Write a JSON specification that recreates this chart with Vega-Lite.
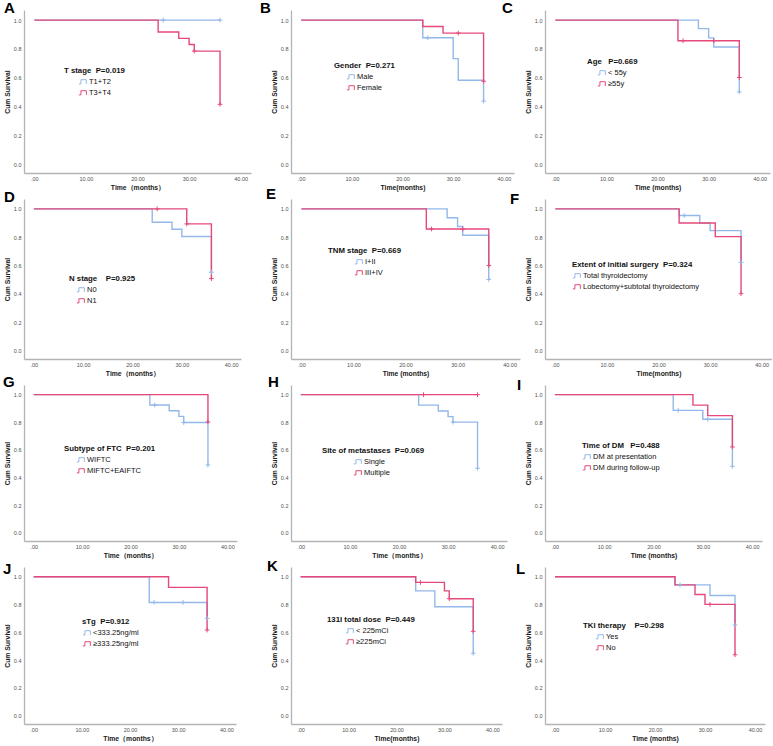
{
  "$schema": "https://vega.github.io/schema/vega-lite/v6.json",
  "autosize": {"type": "pad"},
  "padding": {"left": 3, "top": 1, "right": 0, "bottom": 0},
  "background": "white",
  "datasets": {
    "km": [
      {"p":"A","g":"T1+T2","t":0,"s":1,"c":0},
      {"p":"A","g":"T1+T2","t":25,"s":1,"c":1},
      {"p":"A","g":"T1+T2","t":36,"s":1,"c":1},
      {"p":"A","g":"T3+T4","t":0,"s":1,"c":0},
      {"p":"A","g":"T3+T4","t":24,"s":0.917,"c":0},
      {"p":"A","g":"T3+T4","t":28,"s":0.873,"c":0},
      {"p":"A","g":"T3+T4","t":30,"s":0.831,"c":0},
      {"p":"A","g":"T3+T4","t":31,"s":0.785,"c":1},
      {"p":"A","g":"T3+T4","t":36,"s":0.416,"c":1},

      {"p":"B","g":"Male","t":0,"s":1,"c":0},
      {"p":"B","g":"Male","t":24,"s":0.878,"c":0},
      {"p":"B","g":"Male","t":25,"s":0.878,"c":1},
      {"p":"B","g":"Male","t":30,"s":0.733,"c":0},
      {"p":"B","g":"Male","t":31,"s":0.583,"c":0},
      {"p":"B","g":"Male","t":36,"s":0.438,"c":1},
      {"p":"B","g":"Female","t":0,"s":1,"c":0},
      {"p":"B","g":"Female","t":24,"s":0.956,"c":0},
      {"p":"B","g":"Female","t":28,"s":0.91,"c":0},
      {"p":"B","g":"Female","t":31,"s":0.91,"c":1},
      {"p":"B","g":"Female","t":36,"s":0.576,"c":1},

      {"p":"C","g":"< 55y","t":0,"s":1,"c":0},
      {"p":"C","g":"< 55y","t":28,"s":0.941,"c":0},
      {"p":"C","g":"< 55y","t":30,"s":0.877,"c":0},
      {"p":"C","g":"< 55y","t":31,"s":0.814,"c":0},
      {"p":"C","g":"< 55y","t":36,"s":0.502,"c":1},
      {"p":"C","g":"≥55y","t":0,"s":1,"c":0},
      {"p":"C","g":"≥55y","t":24,"s":0.857,"c":0},
      {"p":"C","g":"≥55y","t":25,"s":0.857,"c":1},
      {"p":"C","g":"≥55y","t":31,"s":0.857,"c":1},
      {"p":"C","g":"≥55y","t":36,"s":0.602,"c":1},

      {"p":"D","g":"N0","t":0,"s":1,"c":0},
      {"p":"D","g":"N0","t":24,"s":0.906,"c":0},
      {"p":"D","g":"N0","t":28,"s":0.856,"c":0},
      {"p":"D","g":"N0","t":30,"s":0.805,"c":0},
      {"p":"D","g":"N0","t":36,"s":0.553,"c":1},
      {"p":"D","g":"N1","t":0,"s":1,"c":0},
      {"p":"D","g":"N1","t":25,"s":1,"c":1},
      {"p":"D","g":"N1","t":31,"s":0.894,"c":1},
      {"p":"D","g":"N1","t":36,"s":0.508,"c":1},

      {"p":"E","g":"I+II","t":0,"s":1,"c":0},
      {"p":"E","g":"I+II","t":28,"s":0.938,"c":0},
      {"p":"E","g":"I+II","t":30,"s":0.876,"c":0},
      {"p":"E","g":"I+II","t":31,"s":0.814,"c":0},
      {"p":"E","g":"I+II","t":36,"s":0.502,"c":1},
      {"p":"E","g":"III+IV","t":0,"s":1,"c":0},
      {"p":"E","g":"III+IV","t":24,"s":0.858,"c":0},
      {"p":"E","g":"III+IV","t":25,"s":0.858,"c":1},
      {"p":"E","g":"III+IV","t":31,"s":0.858,"c":1},
      {"p":"E","g":"III+IV","t":36,"s":0.6,"c":1},

      {"p":"F","g":"Total thyroidectomy","t":0,"s":1,"c":0},
      {"p":"F","g":"Total thyroidectomy","t":24,"s":0.953,"c":0},
      {"p":"F","g":"Total thyroidectomy","t":25,"s":0.953,"c":1},
      {"p":"F","g":"Total thyroidectomy","t":28,"s":0.901,"c":0},
      {"p":"F","g":"Total thyroidectomy","t":30,"s":0.847,"c":0},
      {"p":"F","g":"Total thyroidectomy","t":36,"s":0.622,"c":1},
      {"p":"F","g":"Lobectomy+subtotal thyroidectomy","t":0,"s":1,"c":0},
      {"p":"F","g":"Lobectomy+subtotal thyroidectomy","t":24,"s":0.901,"c":0},
      {"p":"F","g":"Lobectomy+subtotal thyroidectomy","t":31,"s":0.804,"c":0},
      {"p":"F","g":"Lobectomy+subtotal thyroidectomy","t":36,"s":0.401,"c":1},

      {"p":"G","g":"WIFTC","t":0,"s":1,"c":0},
      {"p":"G","g":"WIFTC","t":24,"s":0.925,"c":0},
      {"p":"G","g":"WIFTC","t":25,"s":0.925,"c":1},
      {"p":"G","g":"WIFTC","t":28,"s":0.884,"c":0},
      {"p":"G","g":"WIFTC","t":30,"s":0.843,"c":0},
      {"p":"G","g":"WIFTC","t":31,"s":0.798,"c":1},
      {"p":"G","g":"WIFTC","t":36,"s":0.49,"c":1},
      {"p":"G","g":"MIFTC+EAIFTC","t":0,"s":1,"c":0},
      {"p":"G","g":"MIFTC+EAIFTC","t":36,"s":0.802,"c":1},

      {"p":"H","g":"Single","t":0,"s":1,"c":0},
      {"p":"H","g":"Single","t":24,"s":0.924,"c":0},
      {"p":"H","g":"Single","t":28,"s":0.882,"c":0},
      {"p":"H","g":"Single","t":30,"s":0.841,"c":0},
      {"p":"H","g":"Single","t":31,"s":0.801,"c":1},
      {"p":"H","g":"Single","t":36,"s":0.467,"c":1},
      {"p":"H","g":"Multiple","t":0,"s":1,"c":0},
      {"p":"H","g":"Multiple","t":25,"s":1,"c":1},
      {"p":"H","g":"Multiple","t":36,"s":1,"c":1},

      {"p":"I","g":"DM at presentation","t":0,"s":1,"c":0},
      {"p":"I","g":"DM at presentation","t":24,"s":0.886,"c":0},
      {"p":"I","g":"DM at presentation","t":25,"s":0.886,"c":1},
      {"p":"I","g":"DM at presentation","t":30,"s":0.822,"c":0},
      {"p":"I","g":"DM at presentation","t":31,"s":0.822,"c":1},
      {"p":"I","g":"DM at presentation","t":36,"s":0.481,"c":1},
      {"p":"I","g":"DM during follow-up","t":0,"s":1,"c":0},
      {"p":"I","g":"DM during follow-up","t":28,"s":0.924,"c":0},
      {"p":"I","g":"DM during follow-up","t":31,"s":0.848,"c":0},
      {"p":"I","g":"DM during follow-up","t":36,"s":0.621,"c":1},

      {"p":"J","g":"<333.25ng/ml","t":0,"s":1,"c":0},
      {"p":"J","g":"<333.25ng/ml","t":24,"s":0.815,"c":0},
      {"p":"J","g":"<333.25ng/ml","t":25,"s":0.815,"c":1},
      {"p":"J","g":"<333.25ng/ml","t":31,"s":0.815,"c":1},
      {"p":"J","g":"<333.25ng/ml","t":36,"s":0.7,"c":1},
      {"p":"J","g":"≥333.25ng/ml","t":0,"s":1,"c":0},
      {"p":"J","g":"≥333.25ng/ml","t":28,"s":0.923,"c":0},
      {"p":"J","g":"≥333.25ng/ml","t":36,"s":0.616,"c":1},

      {"p":"K","g":"< 225mCi","t":0,"s":1,"c":0},
      {"p":"K","g":"< 225mCi","t":24,"s":0.898,"c":0},
      {"p":"K","g":"< 225mCi","t":28,"s":0.784,"c":0},
      {"p":"K","g":"< 225mCi","t":36,"s":0.449,"c":1},
      {"p":"K","g":"≥225mCi","t":0,"s":1,"c":0},
      {"p":"K","g":"≥225mCi","t":24,"s":0.959,"c":0},
      {"p":"K","g":"≥225mCi","t":25,"s":0.959,"c":1},
      {"p":"K","g":"≥225mCi","t":30,"s":0.898,"c":0},
      {"p":"K","g":"≥225mCi","t":31,"s":0.842,"c":1},
      {"p":"K","g":"≥225mCi","t":36,"s":0.607,"c":1},

      {"p":"L","g":"Yes","t":0,"s":1,"c":0},
      {"p":"L","g":"Yes","t":24,"s":0.941,"c":0},
      {"p":"L","g":"Yes","t":25,"s":0.941,"c":1},
      {"p":"L","g":"Yes","t":31,"s":0.865,"c":0},
      {"p":"L","g":"Yes","t":36,"s":0.652,"c":1},
      {"p":"L","g":"No","t":0,"s":1,"c":0},
      {"p":"L","g":"No","t":24,"s":0.941,"c":0},
      {"p":"L","g":"No","t":28,"s":0.872,"c":0},
      {"p":"L","g":"No","t":30,"s":0.801,"c":0},
      {"p":"L","g":"No","t":31,"s":0.801,"c":1},
      {"p":"L","g":"No","t":36,"s":0.438,"c":1}
    ]
  },
  "data": {"name": "km"},
  "spacing": 9,
  "resolve": {"scale": {"x": "independent", "y": "independent", "color": "independent"}, "legend": {"color": "independent"}},
  "hconcat": [
    {
      "bounds": "flush", "spacing": 26,
      "resolve": {"scale": {"x": "independent", "y": "independent", "color": "independent"}, "legend": {"color": "independent"}},
      "vconcat": [
        {
          "width": 227, "height": 163,
          "title": {"text": "A", "dx": -20, "offset": -6},
          "transform": [{"filter": "datum.p === 'A'"}],
          "encoding": {
            "x": {"field": "t", "type": "quantitative", "scale": {"domain": [-2, 42], "nice": false, "zero": false}, "axis": {"title": "Time（months）", "values": [0, 10, 20, 30, 40], "labelExpr": "datum.value === 0 ? '.00' : format(datum.value, '.2f')"}},
            "y": {"field": "s", "type": "quantitative", "scale": {"domain": [-0.06, 1.07], "nice": false, "zero": false}, "axis": {"title": "Cum Survival", "values": [0, 0.2, 0.4, 0.6, 0.8, 1], "labelExpr": "format(datum.value, '.1f')"}}
          },
          "layer": [
            {"mark": {"type": "line", "interpolate": "step-after", "strokeWidth": 1.4},
             "encoding": {"color": {"field": "g", "type": "nominal", "scale": {"domain": ["T1+T2", "T3+T4"], "range": ["#93b8ea", "#e5497a"]}, "legend": {"title": "T stage\u00a0\u00a0P=0.019", "orient": "none", "legendX": 40, "legendY": 57, "symbolOffset": 14}}}},
            {"transform": [{"filter": "datum.c === 1"}],
             "mark": {"type": "point", "shape": "M-1,0H1M0,-1V1", "size": 22, "filled": false, "strokeWidth": 1, "opacity": 1},
             "encoding": {"color": {"field": "g", "type": "nominal", "legend": null}}}
          ]
        },
        {
          "width": 217, "height": 160,
          "title": {"text": "D", "dx": -20, "offset": -6},
          "transform": [{"filter": "datum.p === 'D'"}],
          "encoding": {
            "x": {"field": "t", "type": "quantitative", "scale": {"domain": [-2, 42], "nice": false, "zero": false}, "axis": {"title": "Time（months）", "values": [0, 10, 20, 30, 40], "labelExpr": "datum.value === 0 ? '.00' : format(datum.value, '.2f')"}},
            "y": {"field": "s", "type": "quantitative", "scale": {"domain": [-0.06, 1.07], "nice": false, "zero": false}, "axis": {"title": "Cum Survival", "values": [0, 0.2, 0.4, 0.6, 0.8, 1], "labelExpr": "format(datum.value, '.1f')"}}
          },
          "layer": [
            {"mark": {"type": "line", "interpolate": "step-after", "strokeWidth": 1.4},
             "encoding": {"color": {"field": "g", "type": "nominal", "scale": {"domain": ["N0", "N1"], "range": ["#93b8ea", "#e5497a"]}, "legend": {"title": "N stage\u00a0\u00a0\u00a0\u00a0P=0.925", "orient": "none", "legendX": 45, "legendY": 76, "symbolOffset": 7}}}},
            {"transform": [{"filter": "datum.c === 1"}],
             "mark": {"type": "point", "shape": "M-1,0H1M0,-1V1", "size": 22, "filled": false, "strokeWidth": 1, "opacity": 1},
             "encoding": {"color": {"field": "g", "type": "nominal", "legend": null}}}
          ]
        },
        {
          "width": 213, "height": 156,
          "title": {"text": "G", "dx": -21, "offset": -5},
          "transform": [{"filter": "datum.p === 'G'"}],
          "encoding": {
            "x": {"field": "t", "type": "quantitative", "scale": {"domain": [-2, 42], "nice": false, "zero": false}, "axis": {"title": "Time（months）", "values": [0, 10, 20, 30, 40], "labelExpr": "datum.value === 0 ? '.00' : format(datum.value, '.2f')"}},
            "y": {"field": "s", "type": "quantitative", "scale": {"domain": [-0.06, 1.07], "nice": false, "zero": false}, "axis": {"title": "Cum Survival", "values": [0, 0.2, 0.4, 0.6, 0.8, 1], "labelExpr": "format(datum.value, '.1f')"}}
          },
          "layer": [
            {"mark": {"type": "line", "interpolate": "step-after", "strokeWidth": 1.4},
             "encoding": {"color": {"field": "g", "type": "nominal", "scale": {"domain": ["WIFTC", "MIFTC+EAIFTC"], "range": ["#93b8ea", "#e5497a"]}, "legend": {"title": "Subtype of FTC\u00a0\u00a0P=0.201", "orient": "none", "legendX": 40, "legendY": 60, "symbolOffset": 12}}}},
            {"transform": [{"filter": "datum.c === 1"}],
             "mark": {"type": "point", "shape": "M-1,0H1M0,-1V1", "size": 22, "filled": false, "strokeWidth": 1, "opacity": 1},
             "encoding": {"color": {"field": "g", "type": "nominal", "legend": null}}}
          ]
        },
        {
          "width": 212, "height": 157,
          "title": {"text": "J", "dx": -21, "offset": -10},
          "transform": [{"filter": "datum.p === 'J'"}],
          "encoding": {
            "x": {"field": "t", "type": "quantitative", "scale": {"domain": [-2, 42], "nice": false, "zero": false}, "axis": {"title": "Time（months）", "values": [0, 10, 20, 30, 40], "labelExpr": "datum.value === 0 ? '.00' : format(datum.value, '.2f')"}},
            "y": {"field": "s", "type": "quantitative", "scale": {"domain": [-0.06, 1.07], "nice": false, "zero": false}, "axis": {"title": "Cum Survival", "values": [0, 0.2, 0.4, 0.6, 0.8, 1], "labelExpr": "format(datum.value, '.1f')"}}
          },
          "layer": [
            {"mark": {"type": "line", "interpolate": "step-after", "strokeWidth": 1.4},
             "encoding": {"color": {"field": "g", "type": "nominal", "scale": {"domain": ["<333.25ng/ml", "≥333.25ng/ml"], "range": ["#93b8ea", "#e5497a"]}, "legend": {"title": "sTg\u00a0\u00a0P=0.912", "orient": "none", "legendX": 58, "legendY": 51, "symbolOffset": 0}}}},
            {"transform": [{"filter": "datum.c === 1"}],
             "mark": {"type": "point", "shape": "M-1,0H1M0,-1V1", "size": 22, "filled": false, "strokeWidth": 1, "opacity": 1},
             "encoding": {"color": {"field": "g", "type": "nominal", "legend": null}}}
          ]
        }
      ]
    },
    {
      "spacing": -18,
      "resolve": {"scale": {"x": "independent", "y": "independent", "color": "independent"}, "legend": {"color": "independent"}},
      "hconcat": [
        {
          "bounds": "flush", "spacing": 26,
          "resolve": {"scale": {"x": "independent", "y": "independent", "color": "independent"}, "legend": {"color": "independent"}},
          "vconcat": [
            {
              "width": 223, "height": 163,
              "title": {"text": "B", "dx": -31, "offset": -6},
              "transform": [{"filter": "datum.p === 'B'"}],
              "encoding": {
                "x": {"field": "t", "type": "quantitative", "scale": {"domain": [-2, 42], "nice": false, "zero": false}, "axis": {"title": "Time(months)", "values": [0, 10, 20, 30, 40], "labelExpr": "datum.value === 0 ? '.00' : format(datum.value, '.2f')"}},
                "y": {"field": "s", "type": "quantitative", "scale": {"domain": [-0.06, 1.07], "nice": false, "zero": false}, "axis": {"title": "Cum Survival", "values": [0, 0.2, 0.4, 0.6, 0.8, 1], "labelExpr": "format(datum.value, '.1f')"}}
              },
              "layer": [
                {"mark": {"type": "line", "interpolate": "step-after", "strokeWidth": 1.4},
                 "encoding": {"color": {"field": "g", "type": "nominal", "scale": {"domain": ["Male", "Female"], "range": ["#93b8ea", "#e5497a"]}, "legend": {"title": "Gender\u00a0\u00a0P=0.271", "orient": "none", "legendX": 43, "legendY": 52, "symbolOffset": 12}}}},
                {"transform": [{"filter": "datum.c === 1"}],
                 "mark": {"type": "point", "shape": "M-1,0H1M0,-1V1", "size": 22, "filled": false, "strokeWidth": 1, "opacity": 1},
                 "encoding": {"color": {"field": "g", "type": "nominal", "legend": null}}}
              ]
            },
            {
              "width": 229, "height": 160,
              "title": {"text": "E", "dx": -25, "offset": -3},
              "transform": [{"filter": "datum.p === 'E'"}],
              "encoding": {
                "x": {"field": "t", "type": "quantitative", "scale": {"domain": [-2, 42], "nice": false, "zero": false}, "axis": {"title": "Time (months)", "values": [0, 10, 20, 30, 40], "labelExpr": "datum.value === 0 ? '.00' : format(datum.value, '.2f')"}},
                "y": {"field": "s", "type": "quantitative", "scale": {"domain": [-0.06, 1.07], "nice": false, "zero": false}, "axis": {"title": "Cum Survival", "values": [0, 0.2, 0.4, 0.6, 0.8, 1], "labelExpr": "format(datum.value, '.1f')"}}
              },
              "layer": [
                {"mark": {"type": "line", "interpolate": "step-after", "strokeWidth": 1.4},
                 "encoding": {"color": {"field": "g", "type": "nominal", "scale": {"domain": ["I+II", "III+IV"], "range": ["#93b8ea", "#e5497a"]}, "legend": {"title": "TNM stage\u00a0\u00a0P=0.669", "orient": "none", "legendX": 37, "legendY": 48, "symbolOffset": 26}}}},
                {"transform": [{"filter": "datum.c === 1"}],
                 "mark": {"type": "point", "shape": "M-1,0H1M0,-1V1", "size": 22, "filled": false, "strokeWidth": 1, "opacity": 1},
                 "encoding": {"color": {"field": "g", "type": "nominal", "legend": null}}}
              ]
            },
            {
              "width": 216, "height": 156,
              "title": {"text": "H", "dx": -23, "offset": -5},
              "transform": [{"filter": "datum.p === 'H'"}],
              "encoding": {
                "x": {"field": "t", "type": "quantitative", "scale": {"domain": [-2, 42], "nice": false, "zero": false}, "axis": {"title": "Time（months）", "values": [0, 10, 20, 30, 40], "labelExpr": "datum.value === 0 ? '.00' : format(datum.value, '.2f')"}},
                "y": {"field": "s", "type": "quantitative", "scale": {"domain": [-0.06, 1.07], "nice": false, "zero": false}, "axis": {"title": "Cum Survival", "values": [0, 0.2, 0.4, 0.6, 0.8, 1], "labelExpr": "format(datum.value, '.1f')"}}
              },
              "layer": [
                {"mark": {"type": "line", "interpolate": "step-after", "strokeWidth": 1.4},
                 "encoding": {"color": {"field": "g", "type": "nominal", "scale": {"domain": ["Single", "Multiple"], "range": ["#93b8ea", "#e5497a"]}, "legend": {"title": "Site of metastases\u00a0\u00a0P=0.069", "orient": "none", "legendX": 31, "legendY": 62, "symbolOffset": 31}}}},
                {"transform": [{"filter": "datum.c === 1"}],
                 "mark": {"type": "point", "shape": "M-1,0H1M0,-1V1", "size": 22, "filled": false, "strokeWidth": 1, "opacity": 1},
                 "encoding": {"color": {"field": "g", "type": "nominal", "legend": null}}}
              ]
            },
            {
              "width": 211, "height": 157,
              "title": {"text": "K", "dx": -24, "offset": -7},
              "transform": [{"filter": "datum.p === 'K'"}],
              "encoding": {
                "x": {"field": "t", "type": "quantitative", "scale": {"domain": [-2, 42], "nice": false, "zero": false}, "axis": {"title": "Time(months)", "values": [0, 10, 20, 30, 40], "labelExpr": "datum.value === 0 ? '.00' : format(datum.value, '.2f')"}},
                "y": {"field": "s", "type": "quantitative", "scale": {"domain": [-0.06, 1.07], "nice": false, "zero": false}, "axis": {"title": "Cum Survival", "values": [0, 0.2, 0.4, 0.6, 0.8, 1], "labelExpr": "format(datum.value, '.1f')"}}
              },
              "layer": [
                {"mark": {"type": "line", "interpolate": "step-after", "strokeWidth": 1.4},
                 "encoding": {"color": {"field": "g", "type": "nominal", "scale": {"domain": ["< 225mCi", "≥225mCi"], "range": ["#93b8ea", "#e5497a"]}, "legend": {"title": "131I total dose\u00a0\u00a0P=0.449", "orient": "none", "legendX": 36, "legendY": 49, "symbolOffset": 18}}}},
                {"transform": [{"filter": "datum.c === 1"}],
                 "mark": {"type": "point", "shape": "M-1,0H1M0,-1V1", "size": 22, "filled": false, "strokeWidth": 1, "opacity": 1},
                 "encoding": {"color": {"field": "g", "type": "nominal", "legend": null}}}
              ]
            }
          ]
        },
        {
          "bounds": "flush", "spacing": 26,
          "resolve": {"scale": {"x": "independent", "y": "independent", "color": "independent"}, "legend": {"color": "independent"}},
          "vconcat": [
            {
              "width": 225, "height": 163,
              "title": {"text": "C", "dx": -43, "offset": -6},
              "transform": [{"filter": "datum.p === 'C'"}],
              "encoding": {
                "x": {"field": "t", "type": "quantitative", "scale": {"domain": [-2, 42], "nice": false, "zero": false}, "axis": {"title": "Time (months)", "values": [0, 10, 20, 30, 40], "labelExpr": "datum.value === 0 ? '.00' : format(datum.value, '.2f')"}},
                "y": {"field": "s", "type": "quantitative", "scale": {"domain": [-0.06, 1.07], "nice": false, "zero": false}, "axis": {"title": "Cum Survival", "values": [0, 0.2, 0.4, 0.6, 0.8, 1], "labelExpr": "format(datum.value, '.1f')"}}
              },
              "layer": [
                {"mark": {"type": "line", "interpolate": "step-after", "strokeWidth": 1.4},
                 "encoding": {"color": {"field": "g", "type": "nominal", "scale": {"domain": ["< 55y", "≥55y"], "range": ["#93b8ea", "#e5497a"]}, "legend": {"title": "Age\u00a0\u00a0\u00a0P=0.669", "orient": "none", "legendX": 42, "legendY": 48, "symbolOffset": 10}}}},
                {"transform": [{"filter": "datum.c === 1"}],
                 "mark": {"type": "point", "shape": "M-1,0H1M0,-1V1", "size": 22, "filled": false, "strokeWidth": 1, "opacity": 1},
                 "encoding": {"color": {"field": "g", "type": "nominal", "legend": null}}}
              ]
            },
            {
              "width": 227, "height": 160,
              "title": {"text": "F", "dx": -35, "offset": -8},
              "transform": [{"filter": "datum.p === 'F'"}],
              "encoding": {
                "x": {"field": "t", "type": "quantitative", "scale": {"domain": [-2, 42], "nice": false, "zero": false}, "axis": {"title": "Time(months)", "values": [0, 10, 20, 30, 40], "labelExpr": "datum.value === 0 ? '.00' : format(datum.value, '.2f')"}},
                "y": {"field": "s", "type": "quantitative", "scale": {"domain": [-0.06, 1.07], "nice": false, "zero": false}, "axis": {"title": "Cum Survival", "values": [0, 0.2, 0.4, 0.6, 0.8, 1], "labelExpr": "format(datum.value, '.1f')"}}
              },
              "layer": [
                {"mark": {"type": "line", "interpolate": "step-after", "strokeWidth": 1.4},
                 "encoding": {"color": {"field": "g", "type": "nominal", "scale": {"domain": ["Total thyroidectomy", "Lobectomy+subtotal thyroidectomy"], "range": ["#93b8ea", "#e5497a"]}, "legend": {"title": "Extent of initial surgery\u00a0\u00a0P=0.324", "orient": "none", "legendX": 27, "legendY": 62, "symbolOffset": 0}}}},
                {"transform": [{"filter": "datum.c === 1"}],
                 "mark": {"type": "point", "shape": "M-1,0H1M0,-1V1", "size": 22, "filled": false, "strokeWidth": 1, "opacity": 1},
                 "encoding": {"color": {"field": "g", "type": "nominal", "legend": null}}}
              ]
            },
            {
              "width": 217, "height": 156,
              "title": {"text": "I", "dx": -28, "offset": -8},
              "transform": [{"filter": "datum.p === 'I'"}],
              "encoding": {
                "x": {"field": "t", "type": "quantitative", "scale": {"domain": [-2, 42], "nice": false, "zero": false}, "axis": {"title": "Time (months)", "values": [0, 10, 20, 30, 40], "labelExpr": "datum.value === 0 ? '.00' : format(datum.value, '.2f')"}},
                "y": {"field": "s", "type": "quantitative", "scale": {"domain": [-0.06, 1.07], "nice": false, "zero": false}, "axis": {"title": "Cum Survival", "values": [0, 0.2, 0.4, 0.6, 0.8, 1], "labelExpr": "format(datum.value, '.1f')"}}
              },
              "layer": [
                {"mark": {"type": "line", "interpolate": "step-after", "strokeWidth": 1.4},
                 "encoding": {"color": {"field": "g", "type": "nominal", "scale": {"domain": ["DM at presentation", "DM during follow-up"], "range": ["#93b8ea", "#e5497a"]}, "legend": {"title": "Time of DM\u00a0\u00a0\u00a0P=0.488", "orient": "none", "legendX": 37, "legendY": 57, "symbolOffset": 0}}}},
                {"transform": [{"filter": "datum.c === 1"}],
                 "mark": {"type": "point", "shape": "M-1,0H1M0,-1V1", "size": 22, "filled": false, "strokeWidth": 1, "opacity": 1},
                 "encoding": {"color": {"field": "g", "type": "nominal", "legend": null}}}
              ]
            },
            {
              "width": 220, "height": 157,
              "title": {"text": "L", "dx": -29, "offset": -10},
              "transform": [{"filter": "datum.p === 'L'"}],
              "encoding": {
                "x": {"field": "t", "type": "quantitative", "scale": {"domain": [-2, 42], "nice": false, "zero": false}, "axis": {"title": "Time (months)", "values": [0, 10, 20, 30, 40], "labelExpr": "datum.value === 0 ? '.00' : format(datum.value, '.2f')"}},
                "y": {"field": "s", "type": "quantitative", "scale": {"domain": [-0.06, 1.07], "nice": false, "zero": false}, "axis": {"title": "Cum Survival", "values": [0, 0.2, 0.4, 0.6, 0.8, 1], "labelExpr": "format(datum.value, '.1f')"}}
              },
              "layer": [
                {"mark": {"type": "line", "interpolate": "step-after", "strokeWidth": 1.4},
                 "encoding": {"color": {"field": "g", "type": "nominal", "scale": {"domain": ["Yes", "No"], "range": ["#93b8ea", "#e5497a"]}, "legend": {"title": "TKI therapy\u00a0\u00a0\u00a0\u00a0P=0.298", "orient": "none", "legendX": 38, "legendY": 55, "symbolOffset": 12}}}},
                {"transform": [{"filter": "datum.c === 1"}],
                 "mark": {"type": "point", "shape": "M-1,0H1M0,-1V1", "size": 22, "filled": false, "strokeWidth": 1, "opacity": 1},
                 "encoding": {"color": {"field": "g", "type": "nominal", "legend": null}}}
              ]
            }
          ]
        }
      ]
    }
  ],
  "config": {
    "font": "Liberation Sans",
    "view": {"stroke": null},
    "axis": {
      "domainColor": "#b3b3b3", "domainWidth": 1.3, "ticks": false, "grid": false,
      "labelFontSize": 5.5, "labelColor": "#505050", "labelPadding": 3,
      "titleFontSize": 6.8, "titleFontWeight": "bold", "titleColor": "#1a1a1a", "titlePadding": 3,
      "labelFlush": false
    },
    "legend": {
      "titleFontSize": 7.8, "titleFontWeight": "bold", "titleColor": "#111111",
      "labelFontSize": 7.5, "labelColor": "#111111",
      "symbolType": "M-1,0.5H-0.5V-0.5H0.8V0.5", "symbolSize": 70, "symbolStrokeWidth": 1,
      "symbolFillColor": "transparent",
      "titlePadding": 2, "rowPadding": 1, "labelOffset": 1, "padding": 0
    },
    "title": {"fontSize": 15, "fontWeight": "bold", "color": "#000000", "anchor": "start", "frame": "group", "baseline": "top"}
  }
}
